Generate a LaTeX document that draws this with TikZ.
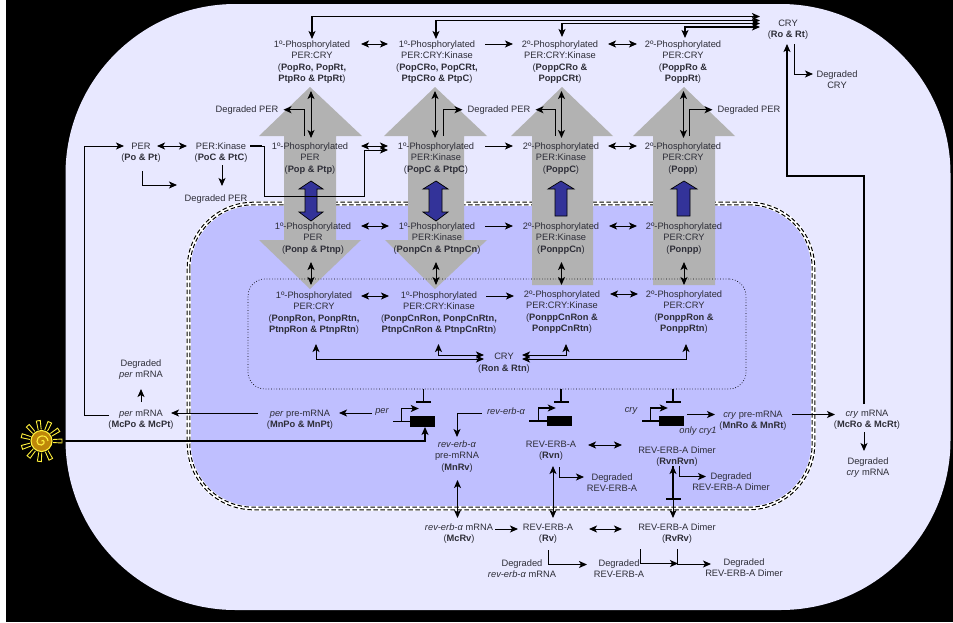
\documentclass[tikz,border=0pt]{standalone}
\usepackage{fontspec}
\setmainfont{Liberation Sans}
\usepackage{tikz}
\usetikzlibrary{arrows.meta, positioning}
\definecolor{cellfill}{RGB}{232,232,255}
\definecolor{nucfill}{RGB}{191,191,255}
\definecolor{bigarrow}{RGB}{178,178,178}
\definecolor{smallarrow}{RGB}{51,51,153}
\definecolor{labeltext}{RGB}{45,45,55}
\definecolor{sunyellow}{RGB}{255,240,60}
\definecolor{sungold}{RGB}{190,135,10}

\begin{document}
\begin{tikzpicture}[
      x=1pt, y=-1pt,
      species/.style={font=\fontsize{9.3}{11.3}\selectfont, align=center, inner xsep=0pt, inner ysep=1.7pt, anchor=north, text=labeltext},
      gene/.style={font=\fontsize{9.3}{11.3}\selectfont\itshape, inner sep=0pt, text=labeltext},
      genebox/.style={fill=black, draw=none, inner sep=0pt, minimum width=25pt, minimum height=10.5pt},
      oneway/.style={-{Stealth[length=8pt,width=7pt,inset=2pt]}, line width=1pt, black},
      twoway/.style={{Stealth[length=8pt,width=7pt,inset=2pt]}-{Stealth[length=8pt,width=7pt,inset=2pt]}, line width=1pt, black},
      route/.style={oneway, line width=1.25pt},
      blockline/.style={-{Bar[width=15pt,line width=2pt]}, line width=1.5pt, black},
      bigshape/.style={fill=bigarrow},
      smallshape/.style={fill=smallarrow, draw=black, line width=0.7pt},
      nucdash/.style={draw=black, line width=1pt, dash pattern=on 4.5pt off 2.5pt}
    ]

    % Page and compartments
    \fill[white] (0,0) rectangle (953,622);
    \fill[black] (6,0) rectangle (953,622);
    \node[fill=cellfill, rounded corners=170pt, minimum width=885pt, minimum height=606pt, inner sep=0pt] (cell) at (508,307) {};
    \node[fill=nucfill, draw=white, line width=4.6pt, rounded corners=65pt, minimum width=625pt, minimum height=305pt, inner sep=0pt, outer sep=0pt] (nucleus) at (501,356) {};
    \draw[nucdash, rounded corners=66.3pt] ([shift={(-1.3,-1.3)}]nucleus.north west) rectangle ([shift={(1.3,1.3)}]nucleus.south east);
    \draw[nucdash, rounded corners=63.7pt] ([shift={(1.3,1.3)}]nucleus.north west) rectangle ([shift={(-1.3,-1.3)}]nucleus.south east);

    % Big transport arrows
    \fill[bigshape] (310,87) -- (362,136) -- (336,136) -- (336,240) -- (361,240) -- (310,289) -- (259,240) -- (284,240) -- (284,136) -- (259,136) -- cycle;
    \fill[bigshape] (435,87) -- (487,136) -- (464,136) -- (464,240) -- (487,240) -- (435,289) -- (385,240) -- (408,240) -- (408,136) -- (384,136) -- cycle;
    \fill[bigshape] (562,87) -- (613,136) -- (593,136) -- (593,285) -- (532,285) -- (532,136) -- (511,136) -- cycle;
    \fill[bigshape] (684,87) -- (735,136) -- (715,136) -- (715,285) -- (653,285) -- (653,136) -- (633,136) -- cycle;

    % Small arrows inside
    \draw[smallshape] (311,181) -- (323,189) -- (317,189) -- (317,212) -- (323,212) -- (311,221) -- (299,212) -- (305,212) -- (305,189) -- (299,189) -- cycle;
    \draw[smallshape] (436,181) -- (448,189) -- (442,189) -- (442,212) -- (448,212) -- (436,221) -- (423,212) -- (429,212) -- (429,189) -- (423,189) -- cycle;
    \draw[smallshape] (561,181) -- (574,189) -- (567,189) -- (567,216) -- (555,216) -- (555,189) -- (548,189) -- cycle;
    \draw[smallshape] (684,181) -- (697,189) -- (690,189) -- (690,216) -- (677,216) -- (677,189) -- (671,189) -- cycle;

    \node[draw=black, dotted, line width=0.7pt, rounded corners=17pt, minimum width=498pt, minimum height=110pt, inner sep=0pt] (complex) at (497,334) {};

    % Cytoplasm, top row
    \node[species] (popcry) at (312,39) {1º-Phosphorylated\\PER:CRY\\(\textbf{PopRo, PopRt,}\\\textbf{PtpRo \& PtpRt})};
    \node[species] (popcrykin) at (437,39) {1º-Phosphorylated\\PER:CRY:Kinase\\(\textbf{PopCRo, PopCRt,}\\\textbf{PtpCRo \& PtpC})};
    \node[species] (poppcrykin) at (560,39) {2º-Phosphorylated\\PER:CRY:Kinase\\(\textbf{PoppCRo \&}\\\textbf{PoppCRt})};
    \node[species] (poppcry) at (683,39) {2º-Phosphorylated\\PER:CRY\\(\textbf{PoppRo \&}\\\textbf{PoppRt})};
    \node[species] (cryc) at (788,18) {CRY\\(\textbf{Ro \& Rt})};
    \node[species] (degcry) at (837,69) {Degraded\\CRY};

    % Cytoplasm, second row
    \node[species] (perc) at (141,141) {PER\\(\textbf{Po \& Pt})};
    \node[species] (perkin) at (221,141) {PER:Kinase\\(\textbf{PoC \& PtC})};
    \node[species] (degperc) at (216,193) {Degraded PER};
    \node[species] (degpera) at (247,103.5) {Degraded PER};
    \node[species] (degperb) at (499,103.5) {Degraded PER};
    \node[species] (degperd) at (749,103.5) {Degraded PER};
    \node[species] (pop) at (310,141) {1º-Phosphorylated\\PER\\(\textbf{Pop \& Ptp})};
    \node[species] (popkin) at (436,141) {1º-Phosphorylated\\PER:Kinase\\(\textbf{PopC \& PtpC})};
    \node[species] (poppkin) at (561,141) {2º-Phosphorylated\\PER:Kinase\\(\textbf{PoppC})};
    \node[species] (popp) at (683,141) {2º-Phosphorylated\\PER:CRY\\(\textbf{Popp})};

    % Nucleus, first row
    \node[species] (ponp) at (313,221) {1º-Phosphorylated\\PER\\(\textbf{Ponp \& Ptnp})};
    \node[species] (ponpkin) at (437,221) {1º-Phosphorylated\\PER:Kinase\\(\textbf{PonpCn \& PtnpCn})};
    \node[species] (ponppkin) at (561,221) {2º-Phosphorylated\\PER:Kinase\\(\textbf{PonppCn})};
    \node[species] (ponpp) at (684,221) {2º-Phosphorylated\\PER:CRY\\(\textbf{Ponpp})};

    % Nucleus, complex row
    \node[species] (ponpcry) at (314,290) {1º-Phosphorylated\\PER:CRY\\(\textbf{PonpRon, PonpRtn,}\\\textbf{PtnpRon \& PtnpRtn})};
    \node[species] (ponpcrykin) at (439,290) {1º-Phosphorylated\\PER:CRY:Kinase\\(\textbf{PonpCnRon, PonpCnRtn,}\\\textbf{PtnpCnRon \& PtnpCnRtn})};
    \node[species] (ponppcrykin) at (562,289) {2º-Phosphorylated\\PER:CRY:Kinase\\(\textbf{PonppCnRon \&}\\\textbf{PonppCnRtn})};
    \node[species] (ponppcry) at (684,289) {2º-Phosphorylated\\PER:CRY\\(\textbf{PonppRon \&}\\\textbf{PonppRtn})};
    \node[species] (cryn) at (504,351.5) {CRY\\(\textbf{Ron \& Rtn})};

    % Genes
    \node[genebox] (pergene) at (422.5,421.5) {};
    \node[genebox] (revgene) at (559.5,421) {};
    \node[genebox] (crygene) at (671.5,421) {};
    \node[gene] (perlabel) at (382,412) {per};
    \node[gene] (revlabel) at (506,411) {rev-erb-α};
    \node[gene] (crylabel) at (631,411) {cry};
    \node[gene] (onlycry) at (698,431) {only cry1};

    % Transcripts and REV-ERB-A
    \node[species] (perpre) at (300,408) {\textit{per} pre-mRNA\\(\textbf{MnPo \& MnPt})};
    \node[species] (permrna) at (141,408) {\textit{per} mRNA\\(\textbf{McPo \& McPt})};
    \node[species] (degpermrna) at (141,358) {Degraded\\\textit{per} mRNA};
    \node[species] (revpre) at (457,439) {\textit{rev-erb-α}\\pre-mRNA\\(\textbf{MnRv})};
    \node[species] (revmrna) at (459,522) {\textit{rev-erb-α} mRNA\\(\textbf{McRv})};
    \node[species] (rvn) at (551,439) {REV-ERB-A\\(\textbf{Rvn})};
    \node[species] (rv) at (548,522) {REV-ERB-A\\(\textbf{Rv})};
    \node[species] (dimern) at (677,445) {REV-ERB-A Dimer\\(\textbf{RvnRvn})};
    \node[species] (dimer) at (677,522) {REV-ERB-A Dimer\\(\textbf{RvRv})};
    \node[species] (degrvn) at (612,472) {Degraded\\REV-ERB-A};
    \node[species] (degdimern) at (731,471) {Degraded\\REV-ERB-A Dimer};
    \node[species] (degrevmrna) at (522,558) {Degraded\\\textit{rev-erb-α} mRNA};
    \node[species] (degrv) at (619,558) {Degraded\\REV-ERB-A};
    \node[species] (degdimer) at (744,557) {Degraded\\REV-ERB-A Dimer};
    \node[species] (crypre) at (753,409) {\textit{cry} pre-mRNA\\(\textbf{MnRo \& MnRt})};
    \node[species] (crymrna) at (867,408) {\textit{cry} mRNA\\(\textbf{McRo \& McRt})};
    \node[species] (degcrymrna) at (868,456) {Degraded\\\textit{cry} mRNA};

    % Sun
    \foreach \a in {0,33,...,327} {
      \draw[sunyellow, line width=0.9pt, rotate around={\a:(41.5,441)}] (53,439.5) -- (62,439) -- (62,443) -- (53,442.5);
    }
    \node[circle, fill=sungold, draw=sunyellow, line width=1.1pt, minimum size=21pt, inner sep=0pt] (sun) at (41.5,441) {};
    \draw[sunyellow, line width=1.1pt] (41.5,441) .. controls (44,438.5) and (46,444) .. (41.5,445) .. controls (36,446) and (35,437.5) .. (41.5,436) .. controls (45,435.5) and (47.5,437.5) .. (48,441);

    % Arrows, top row
    \draw[twoway] ([shift={(49,5)}]popcry.north) -- ([shift={(76,5)}]popcry.north);
    \draw[oneway] ([shift={(48,5)}]popcrykin.north) -- ([shift={(76,5)}]popcrykin.north);
    \draw[twoway] ([shift={(48,5)}]poppcrykin.north) -- ([shift={(77,5)}]poppcrykin.north);

    % Arrows between CRY and the complexes
    \draw[twoway, line width=1.25pt] (popcry.north) -- ++(0,-22.5) -- ++(448,0);
    \draw[twoway, line width=1.25pt] ([xshift=-1pt]popcrykin.north) -- ++(0,-18.5) -- ++(324,0);
    \draw[twoway, line width=1.25pt] ([shift={(2,-2)}]poppcrykin.north) -- ++(0,-13.5) -- ++(198,0);
    \draw[twoway, line width=1.25pt] ([shift={(2,-1)}]poppcry.north) -- ++(0,-11) -- ++(75,0);

    % Arrows at cytoplasmic CRY
    \draw[oneway] ([shift={(6,26)}]cryc.north) |- ([shift={(-24,5)}]degcry.north);
    \draw[route] ([shift={(-3,-4)}]crymrna.north) -- ++(0,-228) -- ++(-77,0) -- ([shift={(-1,26)}]cryc.north);

    % Arrows, second row
    \draw[twoway] ([shift={(16,5)}]perc.north) -- ([shift={(-34,5)}]perkin.north);
    \draw[oneway] ([shift={(1,30)}]perc.north) |- ([shift={(-39,-8)}]degperc.north);
    \draw[oneway] ([shift={(1,24)}]perkin.north) -- ([shift={(6,-7)}]degperc.north);
    \draw[oneway] ([shift={(-32,7)}]permrna.north) -- ++(-25,0) |- ([shift={(-17,5)}]perc.north);
    \draw[twoway] ([shift={(51,5)}]pop.north) -- ([shift={(78,5)}]pop.north);
    \draw[oneway] ([shift={(49,5)}]popkin.north) -- ([shift={(77,5)}]popkin.north);
    \draw[twoway] ([shift={(47,5)}]poppkin.north) -- ([shift={(76,5)}]poppkin.north);
    \draw[line width=1.8pt] ([shift={(29,5)}]perkin.north) -- ++(12,0);
    \draw[oneway] ([shift={(29,5)}]perkin.north) -- ++(14,0) -- ++(0,50) -- ++(100,0) -- ++(0,-46) -- ([shift={(-48,9)}]popkin.north);

    % Arrows at Degraded PER
    \draw[twoway] ([shift={(1,-3)}]pop.north) -- ([shift={(1,-50)}]pop.north);
    \draw[twoway] ([shift={(-1,-3)}]popkin.north) -- ([shift={(-1,-50)}]popkin.north);
    \draw[twoway] ([shift={(0.5,-3)}]poppkin.north) -- ([shift={(0.5,-50)}]poppkin.north);
    \draw[twoway] ([shift={(0.5,-3)}]popp.north) -- ([shift={(0.5,-50)}]popp.north);
    \draw[oneway] ([shift={(-6,-5)}]pop.north) |- ([xshift=5pt]degpera.east);
    \draw[oneway] ([shift={(7,-5)}]popkin.north) |- ([xshift=-5pt]degperb.west);
    \draw[oneway] ([shift={(-6,-5)}]poppkin.north) |- ([xshift=5pt]degperb.east);
    \draw[oneway] ([shift={(6,-5)}]popp.north) |- ([xshift=-5pt]degperd.west);

    % Arrows, nucleus first row
    \draw[twoway] ([shift={(48,5)}]ponp.north) -- ([shift={(76,5)}]ponp.north);
    \draw[oneway] ([shift={(48,5)}]ponpkin.north) -- ([shift={(76,5)}]ponpkin.north);
    \draw[twoway] ([shift={(48,5)}]ponppkin.north) -- ([shift={(76,5)}]ponppkin.north);

    % Arrows into the complex row
    \draw[twoway] ([shift={(-2,41)}]ponp.north) -- ([shift={(-2,64)}]ponp.north);
    \draw[twoway] ([shift={(-1,41)}]ponpkin.north) -- ([shift={(-1,64)}]ponpkin.north);
    \draw[twoway] ([shift={(0.5,41)}]ponppkin.north) -- ([shift={(0.5,64)}]ponppkin.north);
    \draw[twoway] ([shift={(0,41)}]ponpp.north) -- ([shift={(0,64)}]ponpp.north);

    % Arrows, complex row
    \draw[twoway] ([shift={(47,6)}]ponpcry.north) -- ([shift={(75,6)}]ponpcry.north);
    \draw[oneway] ([shift={(47,6)}]ponpcrykin.north) -- ([shift={(75,6)}]ponpcrykin.north);
    \draw[twoway] ([shift={(48,5)}]ponppcrykin.north) -- ([shift={(76,5)}]ponppcrykin.north);

    % Arrows at nuclear CRY
    \draw[twoway] ([shift={(2,54)}]ponpcry.north) |- ([shift={(-20,7.5)}]cryn.north);
    \draw[twoway] ([shift={(-0.5,54)}]ponpcrykin.north) |- ([shift={(-20,3.5)}]cryn.north);
    \draw[twoway] ([shift={(4,55)}]ponppcrykin.north) |- ([shift={(18,3.5)}]cryn.north);
    \draw[twoway] ([shift={(2,55)}]ponppcry.north) |- ([shift={(18,7.5)}]cryn.north);

    % Repression and promoters
    \draw[blockline] (complex.south -| pergene.north) ++(1,0) -- ([shift={(1,-13)}]pergene.north);
    \draw[blockline] (complex.south -| revgene.north) ++(1.5,0) -- ([shift={(1.5,-13)}]revgene.north);
    \draw[blockline] (complex.south -| crygene.north) ++(1.5,0) -- ([shift={(1.5,-13)}]crygene.north);
    \draw[route] (pergene.west) -- ++(-17,0) ++(9,0) -- ++(0,-13) -- ++(17,0);
    \draw[route] (revgene.west) -- ++(-18,0) ++(10,0) -- ++(0,-13) -- ++(17,0);
    \draw[route] (crygene.west) -- ++(-17,0) ++(9,0) -- ++(0,-13) -- ++(17,0);

    % Transcription and export
    \draw[oneway] ([xshift=-3pt,yshift=-1pt]perlabel.west) -- ([shift={(39,5)}]perpre.north);
    \draw[oneway] ([shift={(-42,5)}]perpre.north) -- ([shift={(30,5)}]permrna.north);
    \draw[oneway] ([shift={(0,-6)}]permrna.north) -- ([shift={(0,31)}]degpermrna.north);
    \draw[oneway] ([xshift=-5pt,yshift=-2pt]revlabel.west) -| ([yshift=2pt]revpre.north);
    \draw[twoway] ([shift={(0.5,41)}]revpre.north) -- ([shift={(-1.5,-4)}]revmrna.north);
    \draw[oneway] ([shift={(36,7)}]revmrna.north) -- ([shift={(-30,7)}]rv.north);
    \draw[twoway] ([shift={(2,27)}]rvn.north) -- ([shift={(5,-4)}]rv.north);
    \draw[twoway] ([shift={(37,6)}]rvn.north) -- ([shift={(71,6)}]rvn.north);
    \draw[twoway] ([shift={(41,7)}]rv.north) -- ([shift={(74,7)}]rv.north);
    \draw[oneway] ([shift={(8,28)}]rvn.north) |- ([shift={(-28,5)}]degrvn.north);
    \draw[twoway] ([shift={(-4,21)}]dimern.north) -- ([shift={(-4,-4)}]dimer.north);
    \draw[blockline] ([shift={(-4,21)}]dimern.north) -- ([shift={(-4,55)}]dimern.north);
    \draw[oneway] ([shift={(2.5,21)}]dimern.north) |- ([shift={(-25,5.5)}]degdimern.north);
    \draw[oneway] ([shift={(0,28)}]rv.north) |- ([shift={(-32,6.5)}]degrv.north);
    \draw[oneway] ([shift={(-37,27)}]dimer.north) |- ([shift={(1,41.5)}]dimer.north);
    \draw[oneway] ([shift={(0,27)}]dimer.north) |- ([shift={(-33,7)}]degdimer.north);
    \draw[oneway] ([shift={(-66,5.5)}]crypre.north) -- ([shift={(-38,5.5)}]crypre.north);
    \draw[oneway] ([shift={(39,5.5)}]crypre.north) -- ([shift={(-32,6.5)}]crymrna.north);
    \draw[oneway] ([shift={(-3,24)}]crymrna.north) -- ([shift={(-4,-5)}]degcrymrna.north);

    % Light input
    \draw[route] ([xshift=12pt]sun.east) -| ([xshift=2.5pt]pergene.south);

\end{tikzpicture}
\end{document}
